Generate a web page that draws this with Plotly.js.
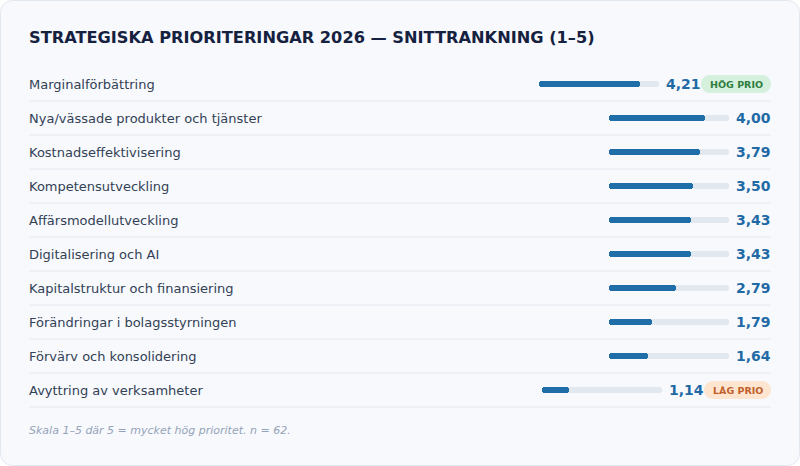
<!DOCTYPE html>
<html>
<head>
<meta charset="utf-8">
<script src="https://cdn.plot.ly/plotly-3.0.1.min.js"></script>
<style>
  html, body { margin: 0; padding: 0; background: #ffffff; }
  #chart { width: 800px; height: 466px; }
</style>
</head>
<body>
<div id="chart"></div>
<script>
// ---- DATA ----
const categories = [
  "Marginalförbättring",
  "Nya/vässade produkter och tjänster",
  "Kostnadseffektivisering",
  "Kompetensutveckling",
  "Affärsmodellutveckling",
  "Digitalisering och AI",
  "Kapitalstruktur och finansiering",
  "Förändringar i bolagsstyrningen",
  "Förvärv och konsolidering",
  "Avyttring av verksamheter"
];
const scores = [4.21, 4.00, 3.79, 3.50, 3.43, 3.43, 2.79, 1.79, 1.64, 1.14];
const badges = ["HÖG PRIO", "", "", "", "", "", "", "", "", "LÅG PRIO"];
const scaleMax = 5;
const titleText = "STRATEGISKA PRIORITERINGAR 2026 — SNITTRANKNING (1–5)";
const footnote = "Skala 1–5 där 5 = mycket hög prioritet. n = 62.";

// ---- STYLE / GEOMETRY ----
const W = 800, H = 466;
const trackPx = 120;
const unitPx = trackPx / scaleMax;
const trackStartPx = 609;
const rightPx = 771;
const leftPx = 29;
const annPad = 2;
const rowTopPx = 84, rowStepPx = 34;
const badgeStyle = {
  "HÖG PRIO": { w: 70, shift: 70, bg: "#d5f0dd", fg: "#2e7d40" },
  "LÅG PRIO": { w: 67, shift: 67, bg: "#fde5d0", fg: "#c0602a" }
};
const barColor = "#1f6ea8";
const trackColor = "#e1e8ef";
const valueColor = "#1f6aa5";
const font = "DejaVu Sans, Verdana, sans-serif";

const idx = categories.map((_, i) => i);
const fmt = v => v.toFixed(2).replace(".", ",");

const shiftPx = badges.map(b => b ? badgeStyle[b].shift : 0);
const base = shiftPx.map(s => -s / unitPx);

const barW = 6 / rowStepPx;
function bars(lenArr, color) {
  return {
    type: "bar", orientation: "h", y: idx, width: barW,
    base: base, x: lenArr,
    marker: { color: color, cornerradius: 3, line: { width: 0 } },
    hoverinfo: "skip", showlegend: false
  };
}
const traces = [
  bars(scores.map(() => scaleMax), trackColor),
  bars(scores, barColor)
];

const annotations = [];
const shapes = [];

shapes.push({
  type: "path", xref: "paper", yref: "paper", xsizemode: "pixel", ysizemode: "pixel",
  xanchor: 0, yanchor: 1, layer: "below",
  path: "M 12.5,-0.5 H 787.5 C 794.1,-0.5 799.5,-5.9 799.5,-12.5 V -453.5 C 799.5,-460.1 794.1,-465.5 787.5,-465.5 H 12.5 C 5.9,-465.5 0.5,-460.1 0.5,-453.5 V -12.5 C 0.5,-5.9 5.9,-0.5 12.5,-0.5 Z",
  fillcolor: "#f7f9fd", line: { color: "#e2e8f0", width: 1 }
});

annotations.push({
  xref: "paper", yref: "paper", x: (leftPx - annPad) / W, y: 1 - 38 / H,
  xanchor: "left", yanchor: "middle", showarrow: false,
  text: "<b>" + titleText + "</b>",
  font: { family: font, size: 16.2, color: "#15213f" }
});

categories.forEach((c, i) => {
  annotations.push({
    xref: "paper", yref: "y", x: (leftPx - annPad) / W, y: i, xanchor: "left", yanchor: "middle",
    showarrow: false, text: c, font: { family: font, size: 13, color: "#334155" }
  });
  const valRight = rightPx - shiftPx[i] + annPad;
  annotations.push({
    xref: "paper", yref: "y", x: valRight / W, y: i, xanchor: "right", yanchor: "middle",
    showarrow: false, text: "<b>" + fmt(scores[i]) + "</b>",
    font: { family: font, size: 14, color: valueColor }
  });
  shapes.push({
    type: "line", xref: "paper", yref: "y", x0: leftPx / W, x1: rightPx / W,
    y0: i + 0.5, y1: i + 0.5, line: { color: "#e4e9f0", width: 1 }, layer: "below"
  });
  if (badges[i]) {
    const st = badgeStyle[badges[i]];
    const x1 = rightPx, x0 = rightPx - st.w, r = 9, k = 0.5523 * r;
    const p = `M ${x0 + r},${r} H ${x1 - r} C ${x1 - r + k},${r} ${x1},${k} ${x1},0 C ${x1},${-k} ${x1 - r + k},${-r} ${x1 - r},${-r} H ${x0 + r} C ${x0 + r - k},${-r} ${x0},${-k} ${x0},0 C ${x0},${k} ${x0 + r - k},${r} ${x0 + r},${r} Z`;
    shapes.push({
      type: "path", xref: "paper", yref: "y", xsizemode: "pixel", ysizemode: "pixel",
      xanchor: 0, yanchor: i, path: p, fillcolor: st.bg, line: { width: 0 }, layer: "below"
    });
    annotations.push({
      xref: "paper", yref: "y", x: (x0 + x1) / 2 / W, y: i, xanchor: "center", yanchor: "middle",
      showarrow: false, text: "<b>" + badges[i] + "</b>",
      font: { family: font, size: 9.5, color: st.fg }
    });
  }
});

annotations.push({
  xref: "paper", yref: "paper", x: (leftPx - annPad) / W, y: 1 - 430 / H,
  xanchor: "left", yanchor: "middle", showarrow: false,
  text: "<i>" + footnote + "</i>",
  font: { family: font, size: 11, color: "#94a3b8" }
});

const layout = {
  width: W, height: H,
  margin: { l: 0, r: 0, t: 0, b: 0, pad: 0 },
  paper_bgcolor: "#ffffff", plot_bgcolor: "rgba(0,0,0,0)",
  barmode: "overlay", bargap: 0,
  showlegend: false,
  xaxis: {
    range: [-trackStartPx / unitPx, (W - trackStartPx) / unitPx],
    showgrid: false, zeroline: false, showticklabels: false, ticks: "", fixedrange: true
  },
  yaxis: {
    range: [(H - rowTopPx) / rowStepPx, -rowTopPx / rowStepPx],
    showgrid: false, zeroline: false, showticklabels: false, ticks: "", fixedrange: true
  },
  shapes: shapes,
  annotations: annotations,
  hovermode: false
};

Plotly.newPlot("chart", traces, layout, { displayModeBar: false, staticPlot: true });
</script>
</body>
</html>
